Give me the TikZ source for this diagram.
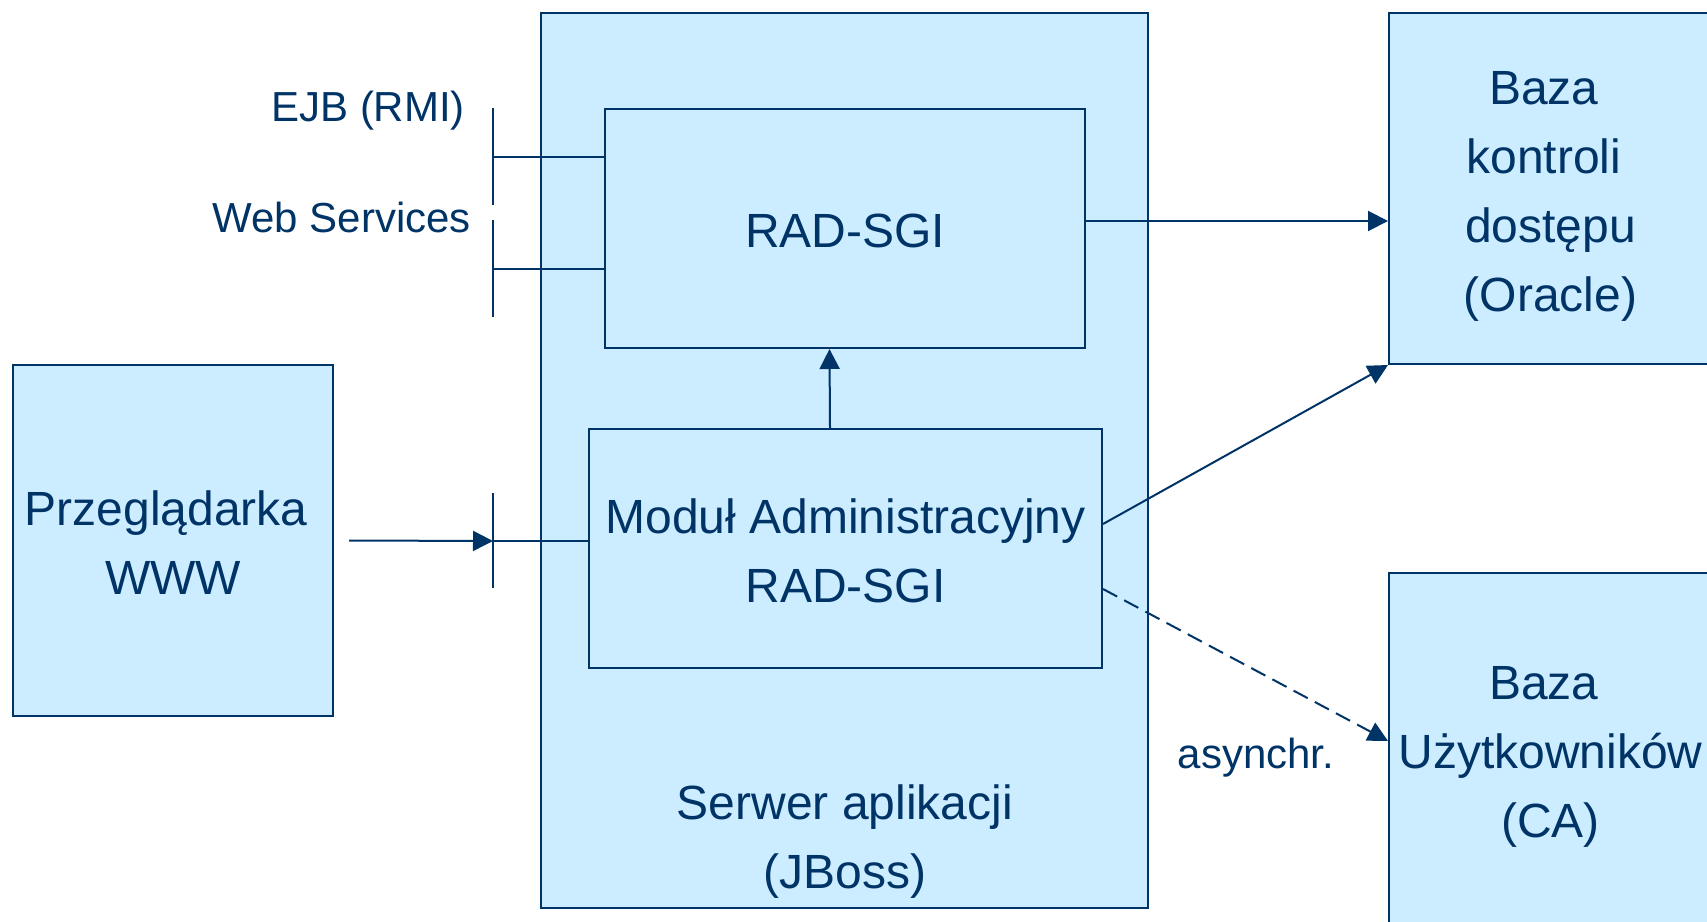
\documentclass[tikz,border=0pt]{standalone}
\usepackage{fontspec}
\setmainfont{Liberation Sans}
\usetikzlibrary{arrows.meta}
\definecolor{boxfill}{HTML}{CCECFF}
\definecolor{navy}{HTML}{003366}
\newcommand{\linestrut}{\rule[-5pt]{0pt}{29pt}}

\begin{document}
\begin{tikzpicture}[x=0.5pt,y=-0.5pt,>={Triangle[length=10pt,width=10pt]},
        line width=1pt,color=navy,
        box text/.style={inner sep=0pt,align=center,font=\fontsize{24}{34.5}\selectfont,
            execute at begin node=\linestrut,execute at end node=\linestrut},
        main node/.style={rectangle,draw=navy,fill=boxfill,box text},
        side label/.style={inner sep=0pt,text height=15pt,text depth=0pt,font=\fontsize{21}{25}\selectfont}]
        \useasboundingbox (0,0) rectangle (1707,921);
        \node[main node,minimum width=303.5pt,minimum height=447.5pt] (1) at (844.5,460.5) {};
        \node[main node,minimum width=240pt,minimum height=119.5pt] (2) at (845,228.5) {RAD-SGI};
        \node[main node,minimum width=256.5pt,minimum height=119.5pt] (3) at (845.5,548.5) {\linestrut Moduł Administracyjny\\RAD-SGI};
        \node[main node,minimum width=160pt,minimum height=175.5pt] (4) at (173,540.5) {\linestrut Przeglądarka\kern.28em\\WWW};
        \node[main node,minimum width=161.5pt,minimum height=175.5pt] (5) at (1550.5,188.5) {\linestrut Baza\kern.28em\\kontroli\kern.28em\\dostępu\\(Oracle)};
        \node[main node,minimum width=161.5pt,minimum height=176pt] (6) at (1550.5,749) {\linestrut Baza\kern.28em\\Użytkowników\\(CA)};
        \node[box text] (7) at (845,834.5) {\linestrut Serwer aplikacji\\(JBoss)};
        \node[side label,anchor=east] (8) at (466,106.7) {EJB (RMI)};
        \node[side label,anchor=east] (9) at (472,217.7) {Web Services};
        \node[side label] (10) at (1256,753) {asynchr.};
        % interfaces
        \coordinate (ejb) at (493,157);
        \coordinate (ws) at (493,269);
        \coordinate (www) at (493,541);
        \draw ([yshift=24.5pt]ejb) -- ([yshift=-24pt]ejb);
        \draw ([yshift=24.5pt]ws) -- ([yshift=-24pt]ws);
        \draw ([yshift=24pt]www) -- ([yshift=-23.5pt]www);
        \draw (ejb) -- (ejb -| 2.west);
        \draw (ws) -- (ws -| 2.west);
        \draw[->] ([xshift=7.5pt]4.east) -- (www);
        \draw (www) -- (www -| 3.west);
        % connections
        \draw[->] ([xshift=-7.75pt]3.north) -- ([xshift=-7.75pt]2.south);
        \draw[->] ([yshift=3.75pt]2.east) -- ([yshift=3.75pt]2.east -| 5.west);
        \draw[->] ([yshift=12.25pt]3.east) -- (5.south west);
        \draw[->,dash pattern=on 8pt off 4pt] ([yshift=-20.25pt]3.east) -- ([yshift=4pt]6.west);
\end{tikzpicture}
\end{document}
